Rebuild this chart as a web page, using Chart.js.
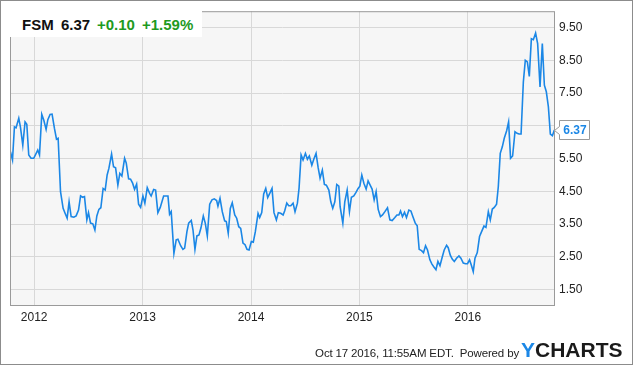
<!DOCTYPE html>
<html>
<head>
<meta charset="utf-8">
<script src="https://cdn.jsdelivr.net/npm/chart.js@4/dist/chart.umd.min.js"></script>
<style>
  html, body { margin: 0; padding: 0; background: #fff; }
  body { width: 635px; height: 366px; position: relative; overflow: hidden; font-family: "Liberation Sans", Arial, sans-serif; }
  #c { position: absolute; left: 0; top: 0; }
  #frame { position: absolute; left: 0; top: 0; width: 631px; height: 363px; border: 1px solid #8c8c8c; pointer-events: none; }
  #head { position: absolute; left: 10px; top: 10px; width: 192px; height: 27px; background: #fff; }
  .ht { position: absolute; top: 7px; font-size: 15px; line-height: 15px; font-weight: bold; white-space: nowrap; }
  #foot { position: absolute; right: 116px; top: 347px; font-size: 11.5px; line-height: 12px; letter-spacing: -0.15px; color: #222; white-space: nowrap; }
  #logo { position: absolute; left: 521px; top: 339px; font-size: 21px; line-height: 21px; font-weight: bold; white-space: nowrap; color: #1a1a1a; }
  #logo span { color: #1b87e6; }
</style>
</head>
<body>
<canvas id="c" width="635" height="366"></canvas>
<div id="head">
  <div class="ht" id="hSym" style="left:12px;color:#111;"></div>
  <div class="ht" id="hPrice" style="left:51px;color:#111;"></div>
  <div class="ht" id="hChg" style="left:87px;color:#1e9a1e;"></div>
  <div class="ht" id="hPct" style="left:132px;color:#1e9a1e;"></div>
</div>
<div id="foot">Oct 17 2016, 11:55AM EDT.&nbsp; Powered by</div>
<div id="logo"><span>Y</span>CHARTS</div>
<div id="frame"></div>
<script>
const symbol = "FSM";
const lastPriceText = "6.37";
const changeText = "+0.10";
const changePctText = "+1.59%";

const dates = [
2011.781,2011.800,2011.818,2011.833,2011.858,2011.873,2011.895,2011.916,2011.932,2011.950,
2011.971,2011.996,2012.033,2012.049,2012.070,2012.089,2012.110,2012.126,2012.147,2012.165,
2012.187,2012.206,2012.221,2012.243,2012.267,2012.285,2012.304,2012.322,2012.341,2012.366,
2012.387,2012.409,2012.428,2012.446,2012.464,2012.486,2012.501,2012.520,2012.541,2012.560,
2012.578,2012.597,2012.615,2012.636,2012.655,2012.673,2012.689,2012.714,2012.732,2012.751,
2012.772,2012.790,2012.809,2012.834,2012.849,2012.871,2012.889,2012.908,2012.926,2012.945,
2012.963,2012.982,2013.003,2013.021,2013.043,2013.065,2013.079,2013.102,2013.120,2013.141,
2013.163,2013.194,2013.234,2013.249,2013.264,2013.289,2013.310,2013.326,2013.351,2013.372,
2013.388,2013.409,2013.425,2013.449,2013.465,2013.483,2013.501,2013.520,2013.538,2013.560,
2013.578,2013.597,2013.619,2013.640,2013.661,2013.683,2013.695,2013.714,2013.735,2013.757,
2013.772,2013.790,2013.809,2013.827,2013.850,2013.868,2013.887,2013.905,2013.926,2013.945,
2013.963,2013.982,2014.003,2014.021,2014.040,2014.065,2014.080,2014.099,2014.117,2014.136,
2014.154,2014.176,2014.194,2014.212,2014.234,2014.252,2014.274,2014.296,2014.311,2014.330,
2014.348,2014.367,2014.388,2014.406,2014.428,2014.443,2014.462,2014.480,2014.502,2014.520,
2014.538,2014.561,2014.579,2014.600,2014.619,2014.637,2014.658,2014.677,2014.695,2014.718,
2014.736,2014.754,2014.773,2014.791,2014.810,2014.822,2014.847,2014.865,2014.887,2014.908,
2014.926,2014.948,2014.967,2014.988,2015.004,2015.022,2015.041,2015.062,2015.080,2015.099,
2015.117,2015.136,2015.154,2015.173,2015.194,2015.213,2015.235,2015.259,2015.281,2015.302,
2015.327,2015.346,2015.364,2015.379,2015.397,2015.416,2015.434,2015.456,2015.475,2015.496,
2015.515,2015.533,2015.551,2015.573,2015.591,2015.610,2015.628,2015.650,2015.669,2015.687,
2015.706,2015.724,2015.743,2015.761,2015.782,2015.804,2015.819,2015.838,2015.856,2015.875,
2015.896,2015.918,2015.936,2015.958,2015.979,2015.997,2016.016,2016.034,2016.050,2016.066,
2016.087,2016.108,2016.127,2016.149,2016.167,2016.189,2016.207,2016.226,2016.244,2016.265,
2016.281,2016.299,2016.318,2016.336,2016.358,2016.376,2016.394,2016.413,2016.435,2016.454,
2016.472,2016.491,2016.512,2016.530,2016.549,2016.567,2016.586,2016.604,2016.625,2016.644,
2016.666,2016.687,2016.706,2016.724,2016.743,2016.761,2016.780,2016.798
];

const prices = [
5.71,5.46,6.47,6.44,6.73,6.47,5.91,6.62,6.55,5.61,
5.51,5.51,5.76,5.61,6.85,6.67,6.39,6.69,6.85,6.86,
6.42,6.09,6.12,4.49,3.98,3.83,3.68,4.18,3.73,3.71,
3.75,3.93,4.36,4.32,4.34,3.63,3.85,3.53,3.51,3.32,
3.75,3.95,4.00,4.59,4.54,5.00,5.20,5.64,5.25,5.22,
4.69,5.05,4.97,5.51,5.37,4.88,4.87,4.75,4.56,4.72,
4.11,4.01,4.36,4.14,4.61,4.44,4.36,4.56,4.54,3.85,
4.01,4.36,4.36,3.80,3.88,2.61,3.02,3.04,2.84,2.73,
2.77,3.27,3.53,3.61,3.32,2.73,3.14,3.17,3.38,3.75,
3.53,3.14,4.11,4.24,4.27,4.22,4.05,4.29,3.88,3.60,
3.58,3.22,3.98,4.15,3.78,3.68,3.42,3.37,2.92,2.87,
2.73,2.71,2.97,2.95,3.27,3.83,3.70,3.85,4.42,4.59,
4.31,4.46,4.59,3.85,3.63,3.85,3.83,3.78,3.91,4.14,
4.06,4.06,4.14,3.88,4.14,4.59,5.61,5.46,5.66,5.48,
5.58,5.30,5.48,5.66,5.23,4.90,5.15,4.71,4.69,4.54,
4.18,3.98,4.18,4.71,4.66,4.03,3.53,4.18,4.54,3.88,
4.32,4.36,4.46,4.59,4.66,5.00,4.75,4.57,4.82,4.69,
4.57,4.24,4.49,3.95,3.73,3.78,3.88,4.00,3.63,3.61,
3.70,3.78,3.78,3.90,3.73,3.86,3.70,3.93,3.90,3.70,
3.53,3.45,2.73,2.69,2.63,2.84,2.71,2.41,2.28,2.19,
2.11,2.36,2.23,2.46,2.71,2.85,2.78,2.55,2.43,2.36,
2.46,2.53,2.46,2.31,2.29,2.29,2.41,2.23,2.05,2.46,
2.63,3.12,3.27,3.44,3.40,3.88,3.63,3.96,4.01,4.11,
4.64,5.66,5.86,6.12,6.35,6.62,5.51,5.58,6.32,6.27,
6.25,6.25,7.84,8.50,8.45,8.01,9.16,9.13,9.33,9.01,
7.69,9.01,7.74,7.54,7.08,6.25,6.20,6.37
];

const yTicks = [1.5, 2.5, 3.5, 4.5, 5.5, 6.5, 7.5, 8.5, 9.5];
const xTicks = [2012, 2013, 2014, 2015, 2016];
const xRange = [2011.777, 2016.804];
const yRange = [1, 10];

document.getElementById('hSym').textContent = symbol;
document.getElementById('hPrice').textContent = lastPriceText;
document.getElementById('hChg').textContent = changeText;
document.getElementById('hPct').textContent = changePctText;

const LINE = '#1b87e6';
const FONT = '"Liberation Sans", Arial, sans-serif';

const plotBg = {
  id: 'plotBg',
  beforeDraw(chart) {
    const {ctx, chartArea: a} = chart;
    ctx.save();
    ctx.fillStyle = '#f6f6f6';
    ctx.fillRect(a.left, a.top, a.right - a.left, a.bottom - a.top);
    ctx.restore();
  },
  afterDraw(chart) {
    const {ctx, chartArea: a} = chart;
    ctx.save();
    ctx.strokeStyle = '#9a9a9a';
    ctx.lineWidth = 1;
    ctx.strokeRect(a.left + 0.5, a.top + 0.5, a.right - a.left - 1, a.bottom - a.top - 1);
    // last value flag
    const meta = chart.getDatasetMeta(0);
    const pt = meta.data[meta.data.length - 1];
    const y = Math.round(pt.y);
    const bx = a.right + 4.5, bw = 30, bh = 19;
    const by = y - 10 + 0.5;
    ctx.fillStyle = '#fff';
    ctx.strokeStyle = '#9a9a9a';
    ctx.beginPath();
    ctx.moveTo(bx, by);
    ctx.lineTo(bx + bw, by);
    ctx.lineTo(bx + bw, by + bh);
    ctx.lineTo(bx, by + bh);
    ctx.lineTo(bx, y + 4.5);
    ctx.lineTo(a.right - 0.5, y + 0.5);
    ctx.lineTo(bx, y - 3.5);
    ctx.closePath();
    ctx.fill();
    ctx.stroke();
    ctx.fillStyle = LINE;
    ctx.font = 'bold 12px ' + FONT;
    ctx.textAlign = 'center';
    ctx.textBaseline = 'middle';
    ctx.fillText(prices[prices.length - 1].toFixed(2), bx + bw / 2 + 0.5, y + 1);
    ctx.restore();
  }
};

new Chart(document.getElementById('c'), {
  type: 'line',
  data: {
    datasets: [{
      data: dates.map((d, i) => ({x: d, y: prices[i]})),
      borderColor: LINE,
      borderWidth: 1.6,
      pointRadius: 0,
      tension: 0,
      fill: false
    }]
  },
  options: {
    responsive: false,
    animation: false,
    events: [],
    layout: {padding: {left: 10, top: 10, right: 0, bottom: 0}},
    plugins: {legend: {display: false}, tooltip: {enabled: false}},
    scales: {
      x: {
        type: 'linear',
        min: xRange[0], max: xRange[1],
        afterBuildTicks: s => { s.ticks = xTicks.map(v => ({value: v})); },
        afterFit: s => { s.height = 60; },
        grid: {color: '#d8d8d8', drawTicks: false},
        border: {display: false},
        ticks: {
          autoSkip: false, maxRotation: 0, padding: 4,
          color: '#222', font: {family: FONT, size: 12},
          callback: v => String(v)
        }
      },
      y: {
        position: 'right',
        min: yRange[0], max: yRange[1],
        afterBuildTicks: s => { s.ticks = yTicks.map(v => ({value: v})); },
        afterFit: s => { s.width = 80; },
        grid: {color: '#d8d8d8', drawTicks: false},
        border: {display: false},
        ticks: {
          padding: 4,
          color: '#222', font: {family: FONT, size: 12},
          callback: v => Number(v).toFixed(2)
        }
      }
    }
  },
  plugins: [plotBg]
});
</script>
</body>
</html>
